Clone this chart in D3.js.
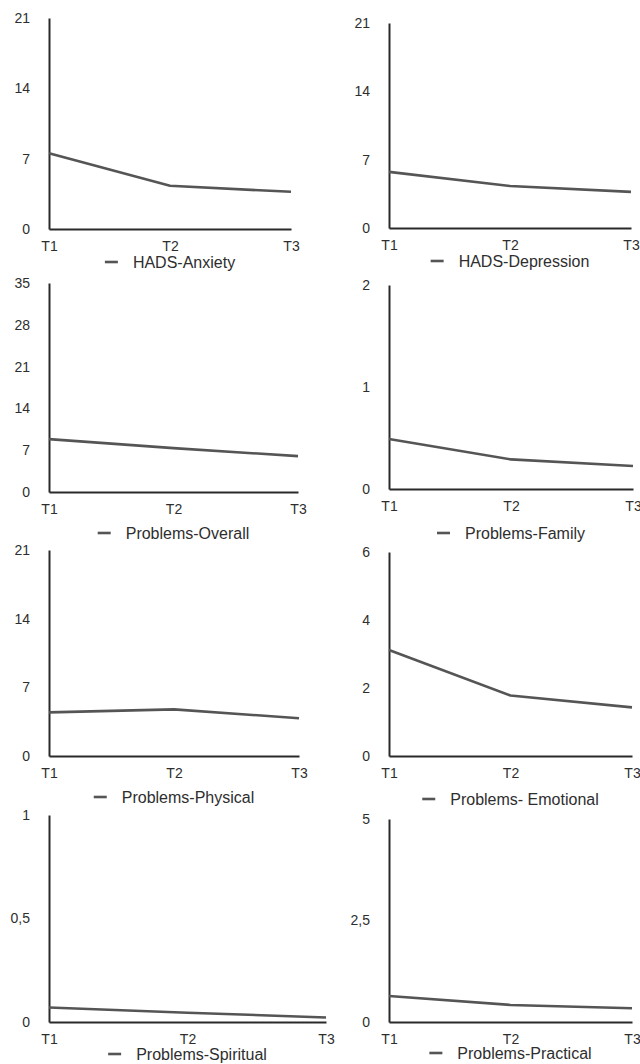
<!DOCTYPE html>
<html>
<head>
<meta charset="utf-8">
<script src="https://cdn.jsdelivr.net/npm/d3@7"></script>
<style>
  html, body { margin: 0; padding: 0; background: #fff; }
  svg { display: block; font-family: "Liberation Sans", Arial, sans-serif; }
</style>
</head>
<body>
<svg id="chart" width="640" height="1064"></svg>
<script>
const timepoints = ["T1", "T2", "T3"];

const seriesNames = [
  "HADS-Anxiety", "HADS-Depression",
  "Problems-Overall", "Problems-Family",
  "Problems-Physical", "Problems- Emotional",
  "Problems-Spiritual", "Problems-Practical"
];

const yTicks = [
  [0, 7, 14, 21], [0, 7, 14, 21],
  [0, 7, 14, 21, 28, 35], [0, 1, 2],
  [0, 7, 14, 21], [0, 2, 4, 6],
  [0, 0.5, 1], [0, 2.5, 5]
];

const seriesValues = [
  [7.55, 4.3, 3.7], [5.75, 4.3, 3.7],
  [8.85, 7.35, 6.0], [0.49, 0.29, 0.225],
  [4.45, 4.75, 3.85], [3.12, 1.78, 1.43],
  [0.07, 0.045, 0.022], [0.64, 0.42, 0.34]
];

// panel frames: axis x, right end, top (max tick), baseline, legend centre y
const frames = [
  { x0: 49, x1: 291, top: 18, base: 229, legendY: 262 },
  { x0: 389, x1: 631, top: 23, base: 228, legendY: 261 },
  { x0: 49, x1: 298, top: 283, base: 492, legendY: 533 },
  { x0: 389, x1: 633, top: 285, base: 489, legendY: 533 },
  { x0: 49, x1: 299, top: 550, base: 756, legendY: 797 },
  { x0: 389, x1: 632, top: 552, base: 756, legendY: 799 },
  { x0: 49, x1: 326, top: 815, base: 1022, legendY: 1054 },
  { x0: 389, x1: 632, top: 819, base: 1022, legendY: 1053 }
];

const axisColor = "#2a2a2a";
const lineColor = "#555555";
const textColor = "#2e2e2e";

const svg = d3.select("#chart");
const fmt = v => String(v).replace(".", ",");

seriesNames.forEach((name, i) => {
  const f = frames[i];
  const ticks = yTicks[i];
  const g = svg.append("g");

  const x = d3.scalePoint()
    .domain(timepoints)
    .range([f.x0, f.x1]);

  const y = d3.scaleLinear()
    .domain([0, d3.max(ticks)])
    .range([f.base, f.top]);

  const yAxis = d3.axisLeft(y)
    .tickValues(ticks)
    .tickFormat(fmt)
    .tickSize(0)
    .tickPadding(19);

  const gy = g.append("g")
    .attr("transform", `translate(${f.x0},0)`)
    .call(yAxis);

  const xAxis = d3.axisBottom(x)
    .tickSize(0)
    .tickPadding(12);

  const gx = g.append("g")
    .attr("transform", `translate(0,${f.base})`)
    .call(xAxis);

  [gx, gy].forEach(a => {
    a.select(".domain")
      .attr("stroke", axisColor)
      .attr("stroke-width", 2);
    a.selectAll("text")
      .attr("fill", textColor)
      .attr("font-size", 14)
      .attr("font-family", "'Liberation Sans', Arial, sans-serif");
  });

  const line = d3.line()
    .x((d, j) => x(timepoints[j]))
    .y(d => y(d));

  g.append("path")
    .datum(seriesValues[i])
    .attr("fill", "none")
    .attr("stroke", lineColor)
    .attr("stroke-width", 2.6)
    .attr("stroke-linejoin", "round")
    .attr("d", line);

  // legend
  const legend = g.append("g");
  const label = legend.append("text")
    .attr("y", f.legendY + 6)
    .attr("fill", textColor)
    .attr("font-size", 16)
    .text(name);
  const tw = label.node().getComputedTextLength();
  const total = 13 + 15 + tw;
  const cx = (f.x0 + f.x1) / 2;
  const lx = cx - total / 2;

  legend.append("line")
    .attr("x1", lx)
    .attr("x2", lx + 13)
    .attr("y1", f.legendY)
    .attr("y2", f.legendY)
    .attr("stroke", lineColor)
    .attr("stroke-width", 2.6);

  label.attr("x", lx + 28);
});
</script>
</body>
</html>
